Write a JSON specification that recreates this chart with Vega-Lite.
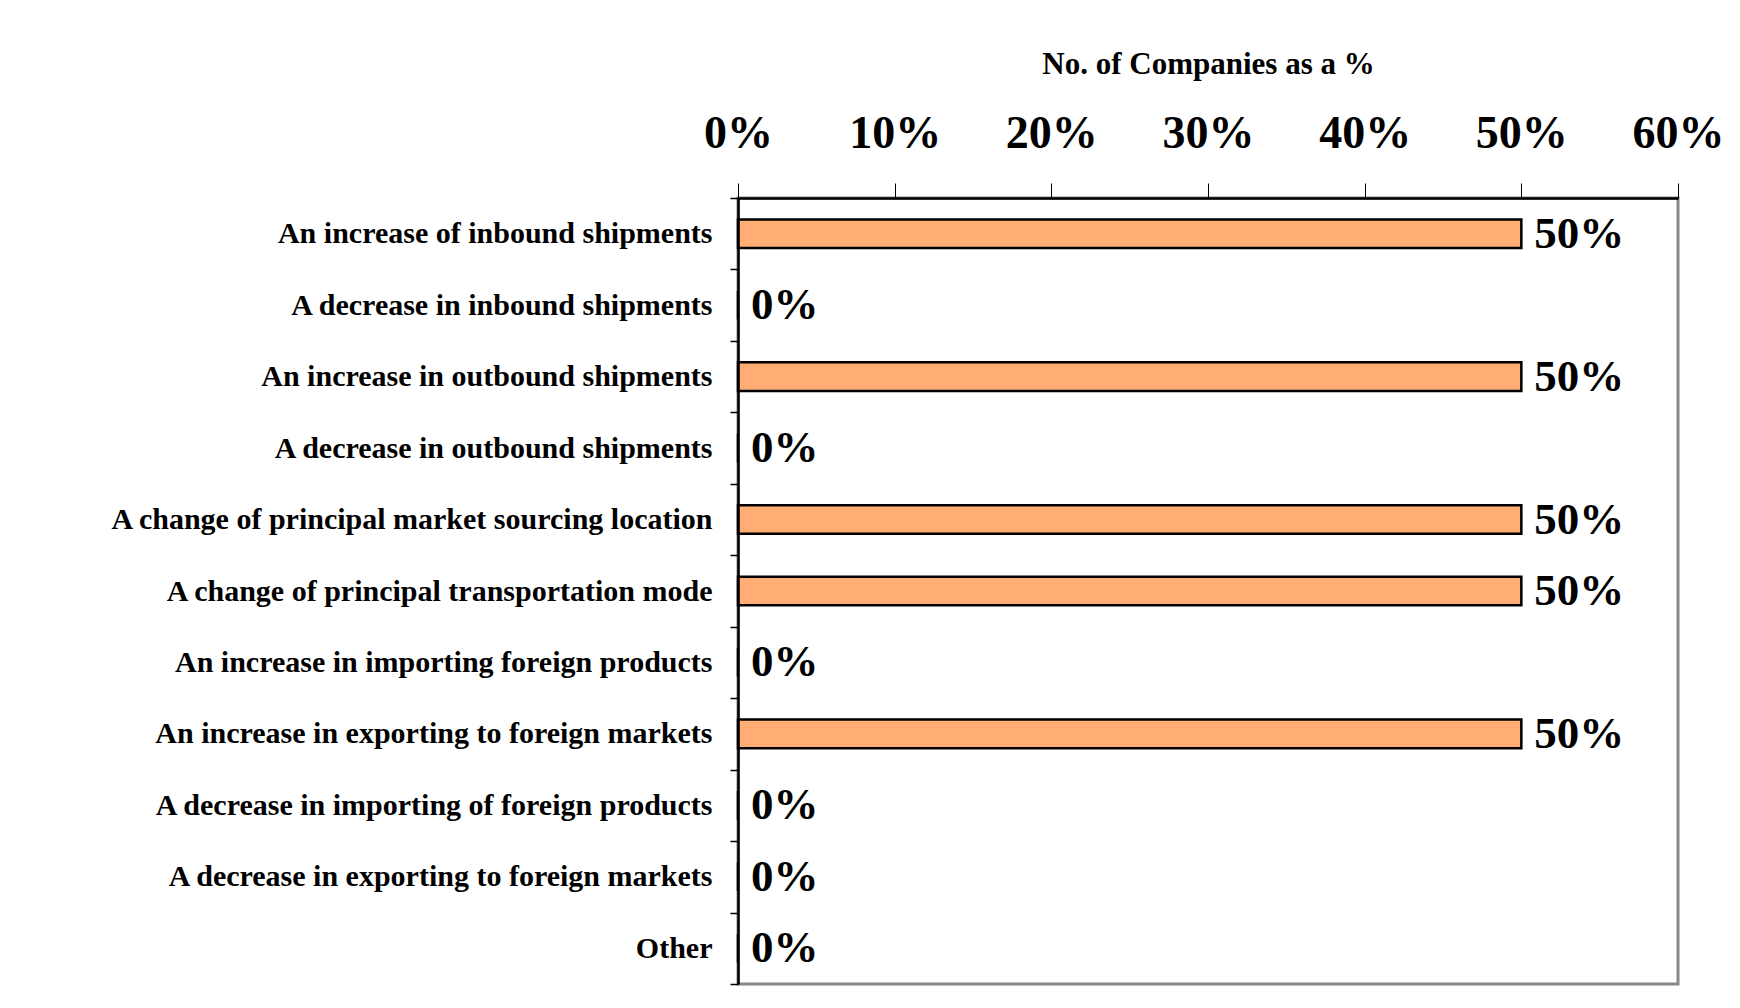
{
  "$schema": "https://vega.github.io/schema/vega-lite/v6.json",
  "width": 940,
  "height": 786,
  "autosize": {"type": "none"},
  "padding": {"left": 738, "top": 198, "right": 62, "bottom": 24},
  "background": "white",
  "config": {
    "view": {"stroke": "#888888", "strokeWidth": 3},
    "font": "Liberation Serif"
  },
  "data": {
    "values": [
      {"category": "An increase of inbound shipments", "value": 0.5},
      {"category": "A decrease in inbound shipments", "value": 0},
      {"category": "An increase in outbound shipments", "value": 0.5},
      {"category": "A decrease in outbound shipments", "value": 0},
      {"category": "A change of principal market sourcing location", "value": 0.5},
      {"category": "A change of principal transportation mode", "value": 0.5},
      {"category": "An increase in importing foreign products", "value": 0},
      {"category": "An increase in exporting to foreign markets", "value": 0.5},
      {"category": "A decrease in importing of foreign products", "value": 0},
      {"category": "A decrease in exporting to foreign markets", "value": 0},
      {"category": "Other", "value": 0}
    ]
  },
  "encoding": {
    "y": {
      "field": "category",
      "type": "nominal",
      "sort": null,
      "scale": {"paddingInner": 0, "paddingOuter": 0},
      "axis": {
        "title": null,
        "orient": "left",
        "zindex": 1,
        "tickBand": "extent",
        "domainColor": "#000000",
        "domainWidth": 2.5,
        "tickColor": "#000000",
        "tickSize": 8,
        "tickWidth": 1.5,
        "labelFont": "Liberation Serif",
        "labelFontSize": 30,
        "labelFontWeight": "bold",
        "labelColor": "#000000",
        "labelPadding": 18,
        "labelLimit": 0
      }
    },
    "x": {
      "field": "value",
      "type": "quantitative",
      "scale": {"domain": [0, 0.6], "nice": false},
      "axis": {
        "orient": "top",
        "zindex": 1,
        "format": ".0%",
        "values": [0, 0.1, 0.2, 0.3, 0.4, 0.5, 0.6],
        "grid": false,
        "tickSize": 15,
        "tickColor": "#000000",
        "tickWidth": 1,
        "domainColor": "#000000",
        "domainWidth": 2.5,
        "labelFont": "Liberation Serif",
        "labelFontSize": 46,
        "labelFontWeight": "bold",
        "labelColor": "#000000",
        "labelPadding": 36,
        "labelBaseline": "alphabetic",
        "labelFlush": false,
        "title": "No. of Companies as a %",
        "titleFont": "Liberation Serif",
        "titleFontSize": 31,
        "titleFontWeight": "bold",
        "titleColor": "#000000",
        "titleY": -125,
        "titleBaseline": "alphabetic"
      }
    }
  },
  "layer": [
    {
      "mark": {"type": "bar", "fill": "#FFAD75", "stroke": "#000000", "strokeWidth": 2.5, "height": {"band": 0.4}}
    },
    {
      "mark": {
        "type": "text",
        "align": "left",
        "dx": 13,
        "baseline": "middle",
        "font": "Liberation Serif",
        "fontSize": 45,
        "fontWeight": "bold",
        "color": "#000000"
      },
      "encoding": {
        "text": {"field": "value", "type": "quantitative", "format": ".0%"}
      }
    }
  ]
}
